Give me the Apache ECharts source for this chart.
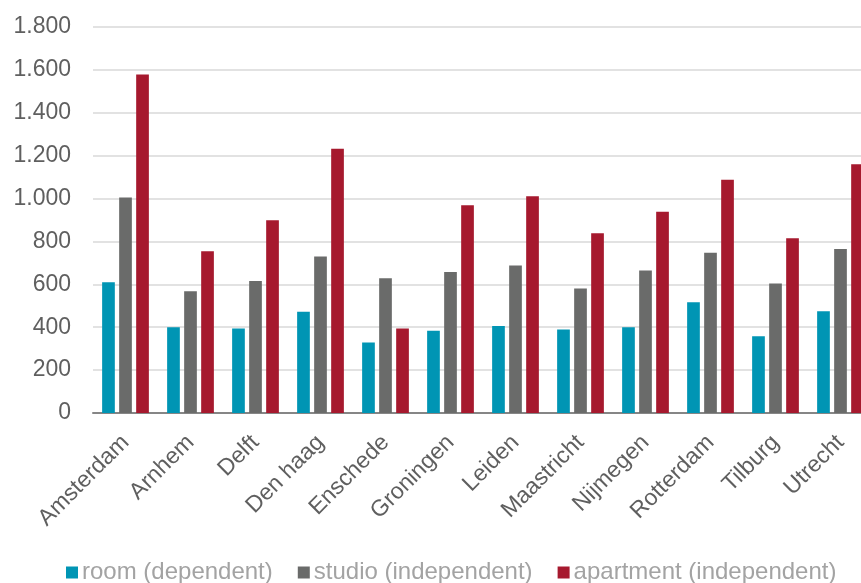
<!DOCTYPE html>
<html>
<head>
<meta charset="utf-8">
<script src="https://cdn.jsdelivr.net/npm/echarts@6/dist/echarts.min.js"></script>
<style>
  html, body { margin: 0; padding: 0; background: #ffffff; overflow: hidden; }
  #chart { width: 873px; height: 583px; }
</style>
</head>
<body>
<div id="chart"></div>
<script>
// Monthly rent by city and housing type (EUR)
const cities = ['Amsterdam', 'Arnhem', 'Delft', 'Den haag', 'Enschede', 'Groningen',
  'Leiden', 'Maastricht', 'Nijmegen', 'Rotterdam', 'Tilburg', 'Utrecht'];
const roomDependent = [610, 400, 394, 472, 329, 383, 406, 389, 400, 516, 358, 474];
const studioIndependent = [1005, 568, 615, 730, 628, 657, 688, 581, 665, 747, 604, 765];
const apartmentIndependent = [1578, 754, 899, 1232, 394, 969, 1011, 838, 939, 1088, 815, 1160];
const seriesNames = ['room (dependent)', 'studio (independent)', 'apartment (independent)'];

const colors = ['#0095b4', '#6a6b6a', '#a6192e'];
const font = '"Liberation Sans", Arial, sans-serif';

// Dutch-style thousands separator
function fmt(v) {
  return String(v).replace(/\B(?=(\d{3})+(?!\d))/g, '.');
}

const chart = echarts.init(document.getElementById('chart'), null, { renderer: 'canvas' });

chart.setOption({
  animation: false,
  backgroundColor: '#ffffff',
  color: colors,
  textStyle: { fontFamily: font },
  grid: { left: 93, right: 0, top: 27, bottom: 170, containLabel: false },
  legend: {
    left: 66,
    top: 559,
    padding: 0,
    itemWidth: 12,
    itemHeight: 12,
    itemGap: 25,
    icon: 'rect',
    textStyle: { fontFamily: font, fontSize: 24, lineHeight: 27, color: '#a3a3a3', padding: [0, 0, 0, -1] },
    data: seriesNames
  },
  xAxis: {
    type: 'category',
    data: cities,
    axisLine: { lineStyle: { color: '#868686', width: 2 } },
    axisTick: { show: false },
    axisLabel: {
      rotate: 45,
      margin: 26,
      interval: 0,
      fontFamily: font,
      fontSize: 23,
      color: '#5f5f5f'
    }
  },
  yAxis: {
    type: 'value',
    min: 0,
    max: 1800,
    interval: 200,
    axisLine: { show: false },
    axisTick: { show: false },
    splitLine: { lineStyle: { color: '#d9d9d9', width: 1.5 } },
    axisLabel: {
      margin: 22,
      fontFamily: font,
      fontSize: 23,
      color: '#5f5f5f',
      formatter: fmt
    }
  },
  series: [
    { name: seriesNames[0], type: 'bar', data: roomDependent, barWidth: 12.7, barGap: '34%', barCategoryGap: '28%' },
    { name: seriesNames[1], type: 'bar', data: studioIndependent, barWidth: 12.7, barGap: '34%' },
    { name: seriesNames[2], type: 'bar', data: apartmentIndependent, barWidth: 12.7, barGap: '34%' }
  ]
});
</script>
</body>
</html>
